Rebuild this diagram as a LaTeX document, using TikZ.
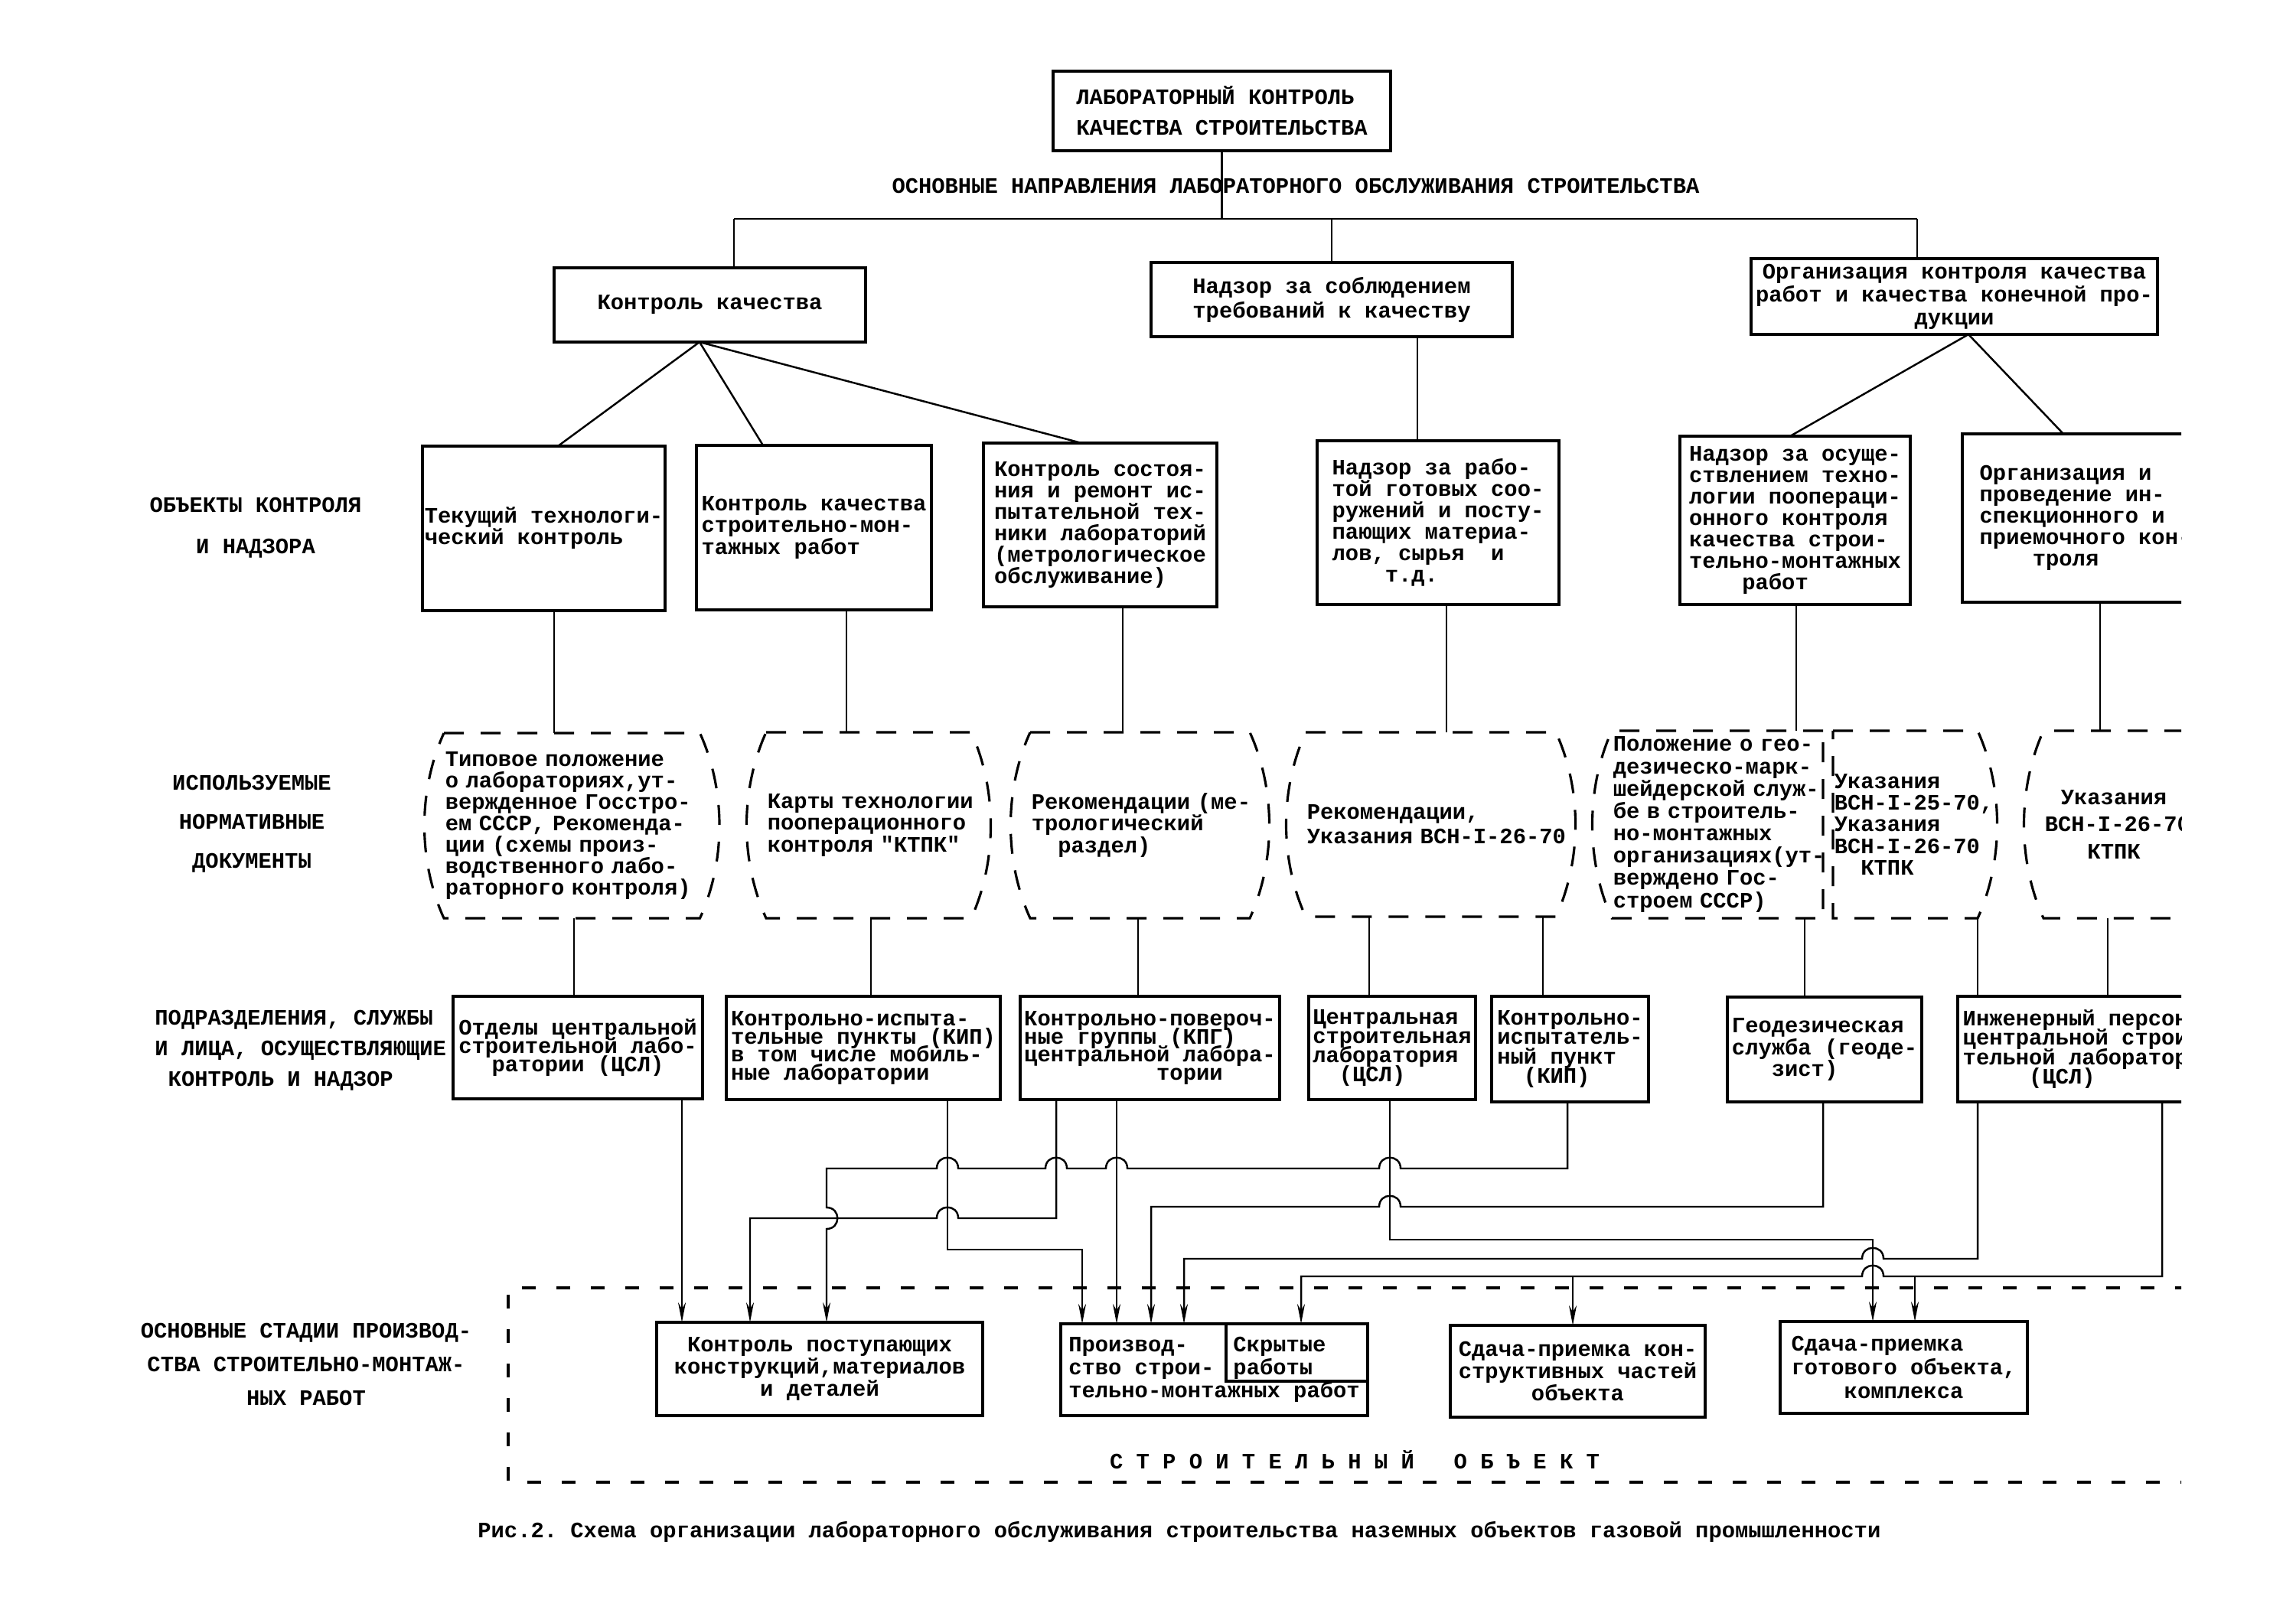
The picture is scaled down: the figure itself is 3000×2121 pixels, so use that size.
\documentclass[tikz,border=0pt]{standalone}
\usepackage{fontspec}
\setmainfont{Liberation Mono}[Ligatures=TeXOff]
\usetikzlibrary{arrows.meta}
\usetikzlibrary{calc}
\frenchspacing

\newcommand{\fsz}[1]{\fontsize{8.2}{#1}\selectfont\lineskiplimit=-30pt\relax}
% hop of a line going left over a vertical one, and of a line going down over a horizontal one
\newcommand{\hopl}[2]{-- ({#1+14},#2) .. controls ({#1+14},{#2-19}) and ({#1-14},{#2-19}) .. ({#1-14},#2)}
\newcommand{\hopd}[2]{-- (#1,{#2-14}) .. controls ({#1+19},{#2-14}) and ({#1+19},{#2+14}) .. (#1,{#2+14})}

\begin{document}
\begin{tikzpicture}[
  x=0.1mm, y=-0.1mm,
  font=\bfseries\fsz{8pt},
  box/.style={draw, line width=1.2pt, inner sep=0.5pt, outer sep=0pt, anchor=north west, align=left},
  doc/.style={inner sep=0.5pt, outer sep=0pt, anchor=north west, align=left},
  docline/.style={line width=0.9pt, dash pattern=on 2.6mm off 2.2mm},
  link/.style={line width=0.7pt},
  arrow/.style={link, -{Stealth[length=2.6mm, width=1mm]}},
  sitedash/.style={line width=1pt, dash pattern=on 1.8mm off 2.7mm}
]
\fill[white] (0,0) rectangle (3000,2121);
\useasboundingbox (0,0) rectangle (3000,2121);

\begin{scope}
\clip (0,0) rectangle (2850,2121);

% head
\node[box, minimum width=44.1mm, minimum height=10.4mm, font=\bfseries\fsz{11.4pt}] (lab) at (1376,93)
  {ЛАБОРАТОРНЫЙ КОНТРОЛЬ\\КАЧЕСТВА СТРОИТЕЛЬСТВА};
\node (dirs) at (1693,243) {ОСНОВНЫЕ НАПРАВЛЕНИЯ ЛАБОРАТОРНОГО ОБСЛУЖИВАНИЯ СТРОИТЕЛЬСТВА};

\node[box, align=center, minimum width=40.7mm, minimum height=9.7mm] (k1) at (724,350) {Контроль качества};
\node[box, align=center, minimum width=47.2mm, minimum height=9.7mm, font=\bfseries\fsz{9.1pt}] (k2) at (1504,343)
  {Надзор за соблюдением\\требований к качеству};
\node[box, align=center, minimum width=53.1mm, minimum height=9.9mm, font=\bfseries\fsz{8.5pt}] (k3) at (2288,338)
  {Организация контроля качества\\работ и качества конечной про-\\дукции};

% row labels
\node[align=center, font=\bfseries\fsz{15.4pt}] (lobj) at (334,690) {ОБЪЕКТЫ КОНТРОЛЯ\\И НАДЗОРА};
\node[align=center, font=\bfseries\fsz{14.5pt}] (ldoc) at (329,1077) {ИСПОЛЬЗУЕМЫЕ\\НОРМАТИВНЫЕ\\ДОКУМЕНТЫ};
\node[align=left, anchor=west, font=\bfseries\fsz{11.4pt}] (lunit) at (190,1373)
  {ПОДРАЗДЕЛЕНИЯ, СЛУЖБЫ\\И ЛИЦА, ОСУЩЕСТВЛЯЮЩИЕ\\\phantom{x}КОНТРОЛЬ И НАДЗОР};
\node[align=center, font=\bfseries\fsz{12.5pt}] (lstage) at (400,1783)
  {ОСНОВНЫЕ СТАДИИ ПРОИЗВОД-\\СТВА СТРОИТЕЛЬНО-МОНТАЖ-\\НЫХ РАБОТ};

% objects of control
\node[box, minimum width=31.7mm, minimum height=21.5mm] (o1) at (552,583) {Текущий технологи-\\ческий контроль};
\node[box, minimum width=30.7mm, minimum height=21.5mm] (o2) at (910,582) {Контроль качества\\строительно-мон-\\тажных работ};
\node[box, minimum width=30.5mm, minimum height=21.4mm] (o3) at (1285,579)
  {Контроль состоя-\\ния и ремонт ис-\\пытательной тех-\\ники лабораторий\\(метрологическое\\обслуживание)};
\node[box, minimum width=31.6mm, minimum height=21.4mm] (o4) at (1721,576)
  {Надзор за рабо-\\той готовых соо-\\ружений и посту-\\пающих материа-\\лов, сырья~~и\\\phantom{xxxx}т.д.};
\node[box, minimum width=30.1mm, minimum height=22mm] (o5) at (2195,570)
  {Надзор за осуще-\\ствлением техно-\\логии поопераци-\\онного контроля\\качества строи-\\тельно-монтажных\\\phantom{xxxx}работ};
\node[box, minimum width=32.2mm, minimum height=22mm] (o6) at (2564,567)
  {Организация и\\проведение ин-\\спекционного и\\приемочного кон-\\\phantom{xxxx}троля};

% normative documents
\node[doc, text width=33.1mm, minimum height=24.2mm] (d1) at (580,958)
  {Типовое положение\\о лабораториях,ут-\\\mbox{вержденное Госстро-}\\\mbox{ем СССР, Рекоменда-}\\ции (схемы произ-\\водственного лабо-\\\mbox{раторного контроля)}};
\node[doc, text width=26.45mm, minimum height=24.3mm] (d2) at (1001,957)
  {\mbox{Карты технологии}\\пооперационного\\контроля "КТПК"};
\node[doc, text width=28.35mm, minimum height=24.3mm] (d3) at (1346,957)
  {\mbox{Рекомендации (ме-}\\трологический\\\phantom{xx}раздел)};
\node[doc, text width=32.35mm, minimum height=24.1mm, font=\bfseries\fsz{9.1pt}] (d4) at (1706,957)
  {Рекомендации,\\\mbox{Указания ВСН-I-26-70}};
\node[doc, text width=27.25mm, minimum height=24.5mm, font=\bfseries\fsz{8.3pt}] (d5) at (2106,955)
  {\mbox{Положение о гео-}\\дезическо-марк-\\\mbox{шейдерской служ-}\\бе в строитель-\\но-монтажных\\\mbox{организациях(ут-}\\верждено Гос-\\строем СССР)};
\node[doc, text width=18.55mm, minimum height=24.5mm] (d6) at (2395,955)
  {Указания\\\mbox{ВСН-I-25-70,}\\Указания\\\mbox{ВСН-I-26-70}\\\phantom{xx}КТПК};
\node[doc, align=center, text width=18.05mm, minimum height=24.5mm, font=\bfseries\fsz{10pt}] (d7) at (2670,955)
  {Указания\\\mbox{ВСН-I-26-70}\\КТПК};

\foreach \d in {d1,d2,d3,d4}
  \draw[docline] (\d.north west) -- (\d.north east)
    .. controls ($(\d.north east)+(34,75)$) and ($(\d.south east)+(34,-75)$) .. (\d.south east)
    -- (\d.south west)
    .. controls ($(\d.south west)+(-34,-75)$) and ($(\d.north west)+(-34,75)$) .. cycle;
\draw[docline] (d5.north east) -- (d5.north west)
  .. controls ($(d5.north west)+(-34,75)$) and ($(d5.south west)+(-34,-75)$) .. (d5.south west)
  -- (d5.south east) -- cycle;
\draw[docline] (d6.north west) -- (d6.north east)
  .. controls ($(d6.north east)+(34,75)$) and ($(d6.south east)+(34,-75)$) .. (d6.south east)
  -- (d6.south west) -- cycle;
\draw[docline] (d7.north east) -- (d7.north west)
  .. controls ($(d7.north west)+(-34,75)$) and ($(d7.south west)+(-34,-75)$) .. (d7.south west)
  -- (d7.south east);

% units
\node[box, align=center, minimum width=32.6mm, minimum height=13.4mm, font=\bfseries\fsz{6.8pt}] (u1) at (592,1302)
  {Отделы центральной\\строительной лабо-\\ратории (ЦСЛ)};
\node[box, minimum width=35.8mm, minimum height=13.5mm, font=\bfseries\fsz{6.8pt}] (u2) at (949,1302)
  {Контрольно-испыта-\\тельные пункты (КИП)\\в том числе мобиль-\\ные лаборатории};
\node[box, minimum width=33.9mm, minimum height=13.5mm, font=\bfseries\fsz{6.8pt}] (u3) at (1333,1302)
  {Контрольно-повероч-\\ные группы (КПГ)\\центральной лабора-\\\phantom{xxxxxxxxxx}тории};
\node[box, minimum width=21.8mm, minimum height=13.5mm, font=\bfseries\fsz{7.2pt}] (u4) at (1710,1302)
  {Центральная\\строительная\\лаборатория\\\phantom{xx}(ЦСЛ)};
\node[box, minimum width=20.5mm, minimum height=13.8mm, font=\bfseries\fsz{7.2pt}] (u5) at (1949,1302)
  {Контрольно-\\испытатель-\\ный пункт\\\phantom{xx}(КИП)};
\node[box, minimum width=25.4mm, minimum height=13.7mm] (u6) at (2257,1303)
  {Геодезическая\\служба (геоде-\\\phantom{xxx}зист)};
\node[box, minimum width=34.2mm, minimum height=13.8mm, font=\bfseries\fsz{7.2pt}] (u7) at (2558,1302)
  {Инженерный персонал\\центральной строи-\\тельной лаборатории\\\phantom{xxxxx}(ЦСЛ)};

% stages
\node[box, align=center, minimum width=42.6mm, minimum height=12.2mm, font=\bfseries\fsz{8.3pt}] (s1) at (858,1728)
  {Контроль поступающих\\конструкций,материалов\\и деталей};
\node[box, minimum width=40.1mm, minimum height=12mm, font=\bfseries\fsz{8.5pt}] (s2) at (1386,1730)
  {Производ-\\ство строи-\\тельно-монтажных работ};
\node[align=left, font=\bfseries\fsz{8.5pt}] (s2h) at (1672,1775) {Скрытые\\работы};
\coordinate (hid) at (1602,1805);
\draw[line width=1.2pt] (hid |- s2.north) -- (hid) -- (hid -| s2.east);
\node[box, align=center, minimum width=33.3mm, minimum height=12mm, font=\bfseries\fsz{8.3pt}] (s3) at (1895,1732)
  {Сдача-приемка кон-\\структивных частей\\объекта};
\node[box, minimum width=32.3mm, minimum height=12mm, font=\bfseries\fsz{8.8pt}] (s4) at (2326,1727)
  {Сдача-приемка\\готового объекта,\\\phantom{xxxx}комплекса};

% building site
\draw[sitedash] (2860,1683) -- (664,1683) -- (664,1937) -- (2860,1937);
\node (site) at (1770,1908) {С~Т~Р~О~И~Т~Е~Л~Ь~Н~Ы~Й~~~О~Б~Ъ~Е~К~Т};

% tree
\coordinate (busL) at (959,286);
\coordinate (busR) at (2505,286);
\draw[link] (lab.south) -- (lab.south |- busL);
\draw[link] (busL) -- (busR);
\draw[link] (busL) -- (busL |- k1.north);
\draw[link] (k2.north |- busL) -- (k2.north);
\draw[link] (busR) -- (busR |- k3.north);

\coordinate (k1f) at (k1.south -| 914,0);
\draw[link] (k1f) -- (o1.north -| 729,0);
\draw[link] (k1f) -- (o2.north -| 997,0);
\draw[link] (k1f) -- (o3.north -| 1413,0);
\draw[link] (k2.south -| 1852,0) -- (o4.north -| 1852,0);
\coordinate (k3f) at (k3.south -| 2572,0);
\draw[link] (k3f) -- (o5.north -| 2339,0);
\draw[link] (k3f) -- (o6.north -| 2696,0);

\foreach \a/\b/\p in {o1/d1/724, o2/d2/1106, o3/d3/1467, o4/d4/1890, o5/d5/2347, o6/d7/2744}
  \draw[link] (\a.south -| \p,0) -- (\b.north -| \p,0);
\foreach \a/\b/\p in {d1/u1/750, d2/u2/1138, d3/u3/1487, d4/u4/1789, d4/u5/2016, d5/u6/2358, d6/u7/2584, d7/u7/2754}
  \draw[link] (\a.south -| \p,0) -- (\b.north -| \p,0);

% units to stages
\draw[arrow] (u1.south -| 891,0) -- (s1.north -| 891,0);
\draw[arrow] (u2.south -| 1238,0) |- (1414,1633) -- (s2.north -| 1414,0);
\draw[arrow] (u3.south -| 1380,0) -- (1380,1592) \hopl{1238}{1592} -- (980,1592) -- (s1.north -| 980,0);
\draw[arrow] (u3.south -| 1459,0) -- (s2.north -| 1459,0);
\draw[arrow] (u5.south -| 2048,0) -- (2048,1527) \hopl{1816}{1527} \hopl{1459}{1527} \hopl{1380}{1527}
  \hopl{1238}{1527} -- (1080,1527) \hopd{1080}{1592} -- (s1.north -| 1080,0);
\draw[arrow] (u4.south -| 1816,0) -- (1816,1620) -- (2447,1620) -- (s4.north -| 2447,0);
\draw[arrow] (u6.south -| 2382,0) -- (2382,1577) \hopl{1816}{1577} -- (1504,1577) -- (s2.north -| 1504,0);
\draw[arrow] (u7.south -| 2584,0) -- (2584,1645) \hopl{2447}{1645} -- (1547,1645) -- (s2.north -| 1547,0);
\draw[arrow] (u7.south -| 2825,0) -- (2825,1668) \hopl{2447}{1668} -- (1700,1668) -- (s2.north -| 1700,0);
\coordinate (fb3) at (2055,1668);
\coordinate (fb4) at (2502,1668);
\draw[arrow] (fb3) -- (s3.north -| fb3);
\draw[arrow] (fb4) -- (s4.north -| fb4);

\node (cap) at (1541,2002) {Рис.2. Схема организации лабораторного обслуживания строительства наземных объектов газовой промышленности};
\end{scope}
\end{tikzpicture}
\end{document}
